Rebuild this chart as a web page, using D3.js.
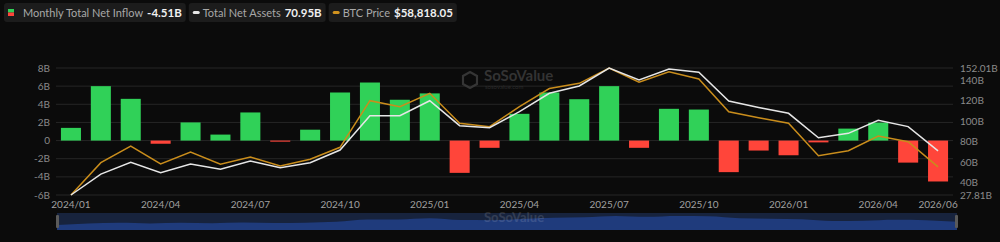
<!DOCTYPE html>
<html><head><meta charset="utf-8">
<script src="https://cdn.jsdelivr.net/npm/d3@7/dist/d3.min.js"></script>
<style>html,body{margin:0;padding:0;background:#0b0b0b;overflow:hidden}svg{display:block}</style>
</head><body>
<svg id="c" width="1000" height="242"></svg>
<script>
const months = ["2024/01","2024/02","2024/03","2024/04","2024/05","2024/06","2024/07","2024/08","2024/09","2024/10","2024/11","2024/12",
"2025/01","2025/02","2025/03","2025/04","2025/05","2025/06","2025/07","2025/08","2025/09","2025/10","2025/11","2025/12",
"2026/01","2026/02","2026/03","2026/04","2026/05","2026/06"];
const netInflow = [1.4, 6.0, 4.6, -0.35, 2.0, 0.66, 3.1, -0.12, 1.2, 5.3, 6.4, 4.5, 5.2, -3.56, -0.8, 2.95, 5.3, 4.56, 6.0, -0.8, 3.5, 3.42, -3.48, -1.1, -1.62, -0.2, 1.32, 1.98, -2.43, -4.51];
const netAssets = [27.81, 48.3, 59.8, 49.6, 58.1, 53.0, 61.0, 54.5, 59.4, 71.8, 105.4, 105.4, 120.0, 95.6, 93.6, 109.3, 127.3, 134.4, 152.01, 140.3, 151.0, 147.8, 119.7, 113.4, 107.7, 83.8, 88.1, 100.9, 94.7, 70.95];
const btcPrice = [42580, 61190, 70800, 60440, 67360, 60270, 64480, 59290, 63150, 70060, 96920, 93460, 101180, 83890, 81940, 93460, 103900, 106940, 115760, 107520, 113630, 109400, 90580, 87120, 83890, 65230, 68110, 76580, 73290, 58818.05];
const leftTicks = [8, 6, 4, 2, 0, -2, -4, -6];
const leftTickLabels = ["8B","6B","4B","2B","0","-2B","-4B","-6B"];
const rightTicks = [152.01, 140, 120, 100, 80, 60, 40, 27.81];
const rightTickLabels = ["152.01B","140B","120B","100B","80B","60B","40B","27.81B"];
const xTickLabels = ["2024/01","2024/04","2024/07","2024/10","2025/01","2025/04","2025/07","2025/10","2026/01","2026/04","2026/06"];
const legendItems = [
  {name:"Monthly Total Net Inflow", value:"-4.51B", type:"bar"},
  {name:"Total Net Assets", value:"70.95B", type:"line", color:"#e6e6e6"},
  {name:"BTC Price", value:"$58,818.05", type:"line", color:"#d0921e"}
];

const GREEN = "#30d158", RED = "#ff453a", WHITE = "#e6e6e6", GOLD = "#c98d1c";
const svg = d3.select("#c");
const L = 56, R = 953, T = 68, B = 195;

const x = d3.scaleBand().domain(months).range([L, R]).paddingInner(0.33).paddingOuter(0.165);
const yL = d3.scaleLinear().domain([-6, 8]).range([B, T]);
const yR = d3.scaleLinear().domain([27.81, 152.01]).range([B, T]);
const yB = d3.scaleLinear().domain([d3.min(btcPrice), d3.max(btcPrice)]).range([B, T]);
const cx = m => x(m) + x.bandwidth()/2;

// grid
svg.append("g").selectAll("line").data(leftTicks).join("line")
  .attr("x1", L).attr("x2", R).attr("y1", d => yL(d)).attr("y2", d => yL(d))
  .attr("stroke", "#262626").attr("stroke-width", 1);

// watermark
const wm = svg.append("g").attr("opacity", 0.9);
wm.append("path").attr("d", "M470,72 l7,4 v8 l-7,4 l-7,-4 v-8 z").attr("fill", "none").attr("stroke", "#3a3a3a").attr("stroke-width", 2.2);
wm.append("text").attr("x", 484).attr("y", 81).text("SoSoValue").attr("font-family", "Lato, sans-serif").attr("font-weight", 700).attr("font-size", 15).attr("fill", "#383838");
wm.append("text").attr("x", 485).attr("y", 89).text("sosovalue.com").attr("font-family", "Lato, sans-serif").attr("font-size", 6).attr("fill", "#303030");

// left axis labels
svg.append("g").selectAll("text").data(leftTicks).join("text")
  .attr("x", 50).attr("y", d => yL(d)).attr("dy", "0.35em").attr("text-anchor", "end")
  .text((d, i) => leftTickLabels[i]).attr("font-family", "Lato, sans-serif").attr("font-size", 10).attr("fill", "#8a8a8a");
// right axis labels
svg.append("g").selectAll("text").data(rightTicks).join("text")
  .attr("x", 960).attr("y", d => yR(d)).attr("dy", "0.35em").attr("text-anchor", "start")
  .text((d, i) => rightTickLabels[i]).attr("font-family", "Lato, sans-serif").attr("font-size", 10).attr("fill", "#8a8a8a");
// x labels
svg.append("g").selectAll("text").data(xTickLabels).join("text")
  .attr("x", d => cx(d)).attr("y", 208).attr("text-anchor", "middle")
  .text(d => d).attr("font-family", "Lato, sans-serif").attr("font-size", 10).attr("fill", "#a0a0a0");

// bars
svg.append("g").selectAll("rect").data(months).join("rect")
  .attr("x", d => x(d)).attr("width", x.bandwidth())
  .attr("y", (d, i) => yL(Math.max(0, netInflow[i])))
  .attr("height", (d, i) => Math.max(1, Math.abs(yL(netInflow[i]) - yL(0))))
  .attr("fill", (d, i) => netInflow[i] >= 0 ? GREEN : RED);

// lines
const lineB = d3.line().x((d, i) => cx(months[i])).y(d => yB(d));
const lineA = d3.line().x((d, i) => cx(months[i])).y(d => yR(d));
svg.append("path").attr("d", lineB(btcPrice)).attr("fill", "none").attr("stroke", GOLD).attr("stroke-width", 1.5);
svg.append("path").attr("d", lineA(netAssets)).attr("fill", "none").attr("stroke", WHITE).attr("stroke-width", 1.5);

// navigator
const NT = 213, NB = 230;
svg.append("rect").attr("x", 57).attr("y", NT).attr("width", 900).attr("height", NB - NT).attr("fill", "#17233d");
const xn = d3.scalePoint().domain(months).range([57, 957]);
const yn2 = d3.scaleLinear().domain([d3.min(netAssets), d3.max(netAssets)]).range([NB - 5, NT + 3]);
svg.append("path").datum(netAssets)
  .attr("d", d3.area().x((d, i) => xn(months[i])).y0(NB).y1(d => yn2(d)).curve(d3.curveMonotoneX))
  .attr("fill", "#1f3b7c");
svg.append("rect").attr("x", 56).attr("y", 215).attr("width", 3).attr("height", 13).attr("rx", 1).attr("fill", "#5a5a5a");
svg.append("rect").attr("x", 955).attr("y", 215).attr("width", 3).attr("height", 13).attr("rx", 1).attr("fill", "#5a5a5a");
svg.append("text").attr("x", 484).attr("y", 222).text("SoSoValue").attr("font-family", "Lato, sans-serif").attr("font-weight", 700).attr("font-size", 13).attr("fill", "#ffffff").attr("opacity", 0.12);

// legend
let lx = 4;
const leg = svg.append("g");
legendItems.forEach((it) => {
  const g = leg.append("g");
  const bg = g.append("rect").attr("x", lx).attr("y", 3).attr("height", 19).attr("rx", 3).attr("fill", "#1c1c1c");
  let tx = lx + 4;
  if (it.type === "bar") {
    g.append("rect").attr("x", tx).attr("y", 9).attr("width", 6).attr("height", 3.5).attr("fill", GREEN);
    g.append("rect").attr("x", tx).attr("y", 12.5).attr("width", 6).attr("height", 3.5).attr("fill", RED);
  } else {
    g.append("rect").attr("x", tx).attr("y", 11).attr("width", 7).attr("height", 3).attr("rx", 1.5).attr("fill", it.color);
  }
  tx += (it.type === "bar") ? 15 : 10;
  const t1 = g.append("text").attr("x", tx).attr("y", 16.5).text(it.name)
    .attr("font-family", "Lato, sans-serif").attr("font-size", 11).attr("fill", "#a8a8a8");
  const w1 = t1.node().getComputedTextLength();
  const t2 = g.append("text").attr("x", tx + w1 + 4).attr("y", 16.5).text(it.value)
    .attr("font-family", "Lato, sans-serif").attr("font-weight", 700).attr("font-size", 11.5).attr("fill", "#f0f0f0");
  const w2 = t2.node().getComputedTextLength();
  const end = tx + w1 + 4 + w2 + 4;
  bg.attr("width", end - lx);
  lx = end + 3;
});
</script>
</body></html>
